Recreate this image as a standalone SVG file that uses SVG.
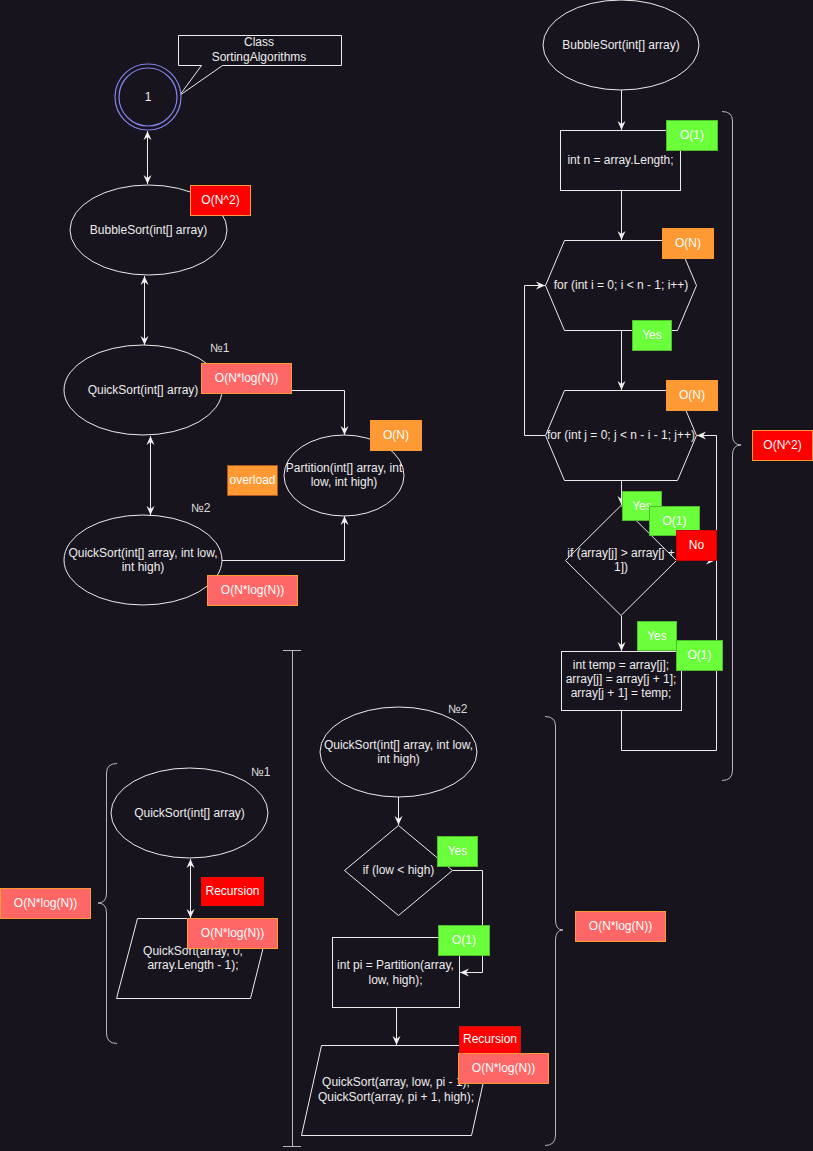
<svg xmlns="http://www.w3.org/2000/svg" width="813" height="1151" viewBox="0 0 813 1151">
  <defs>
    <marker id="arr" viewBox="0 0 10 10" refX="9" refY="5" markerWidth="10" markerHeight="10" markerUnits="userSpaceOnUse" orient="auto-start-reverse">
      <path d="M0,1 L9,5 L0,9 L3,5 Z" fill="#f0f0f0"/>
    </marker>
    <style>
      text { font-family: "Liberation Sans", Arial, Helvetica, sans-serif; font-size: 12px; fill: #ececec; text-anchor: middle; }
      .shape { fill: #18141d; stroke: #ececec; stroke-width: 1; }
      .line { fill: none; stroke: #ececec; stroke-width: 1; }
      .brace { fill: none; stroke: #b8b8b8; stroke-width: 1; }
      .red { fill: #ff0000; stroke: #ff9933; }
      .no { fill: #ff0000; stroke: #cc0000; }
      .salmon { fill: #ff6666; stroke: #ff9933; }
      .orange { fill: #ff9933; stroke: #ff9933; }
      .ovl { fill: #ff9933; stroke: #a8561f; }
      .green { fill: #6aff3a; stroke: #4fbf2b; }
      .badge text, text.w { fill: #ffffff; }
      .note { fill: #dcdcdc; text-anchor: start; }
    </style>
  </defs>
  <rect x="0" y="0" width="813" height="1151" fill="#18141d"/>

  <!-- class overview -->
  <g id="class-callout">
    <path class="shape" d="M178.5,35.5 H341.5 V65.5 H222.5 L179.5,95.5 L201.5,65.5 H178.5 Z"/>
    <text x="259" y="46">Class</text>
    <text x="259" y="61">SortingAlgorithms</text>
  </g>
  <g id="class-start">
    <circle cx="148" cy="97" r="33" fill="#18141d" stroke="#8484ee" stroke-width="1.2"/>
    <circle cx="148" cy="97" r="29" fill="none" stroke="#8484ee" stroke-width="1.2"/>
    <text x="148" y="101">1</text>
  </g>
  <g id="bubble-overview">
    <ellipse class="shape" cx="148.5" cy="230" rx="78.5" ry="45"/>
    <text x="148.5" y="234">BubbleSort(int[] array)</text>
  </g>
  <g id="quick1-overview">
    <ellipse class="shape" cx="143" cy="390" rx="79" ry="45"/>
    <text x="143" y="394">QuickSort(int[] array)</text>
  </g>
  <g id="quick2-overview">
    <ellipse class="shape" cx="143" cy="560" rx="79" ry="45"/>
    <text x="143" y="557">QuickSort(int[] array, int low,</text>
    <text x="143" y="571">int high)</text>
  </g>
  <g id="partition">
    <ellipse class="shape" cx="344" cy="475.5" rx="60" ry="40.5"/>
    <text x="344" y="472">Partition(int[] array, int</text>
    <text x="344" y="486">low, int high)</text>
  </g>

  <!-- bubble sort flow -->
  <g id="bubble-start">
    <ellipse class="shape" cx="621" cy="45" rx="78" ry="45"/>
    <text x="621" y="49">BubbleSort(int[] array)</text>
  </g>
  <g id="init-n">
    <rect class="shape" x="560.5" y="130.5" width="120" height="60"/>
    <text x="620.5" y="164">int n = array.Length;</text>
  </g>
  <g id="loop-i">
    <path class="shape" d="M564.5,240.5 H677.5 L696.5,285.5 L677.5,330.5 H564.5 L545.5,285.5 Z"/>
    <text x="621" y="289">for (int i = 0; i &lt; n - 1; i++)</text>
  </g>
  <g id="loop-j">
    <path class="shape" d="M564.5,390.5 H677.5 L696.5,435.5 L677.5,480.5 H564.5 L545.5,435.5 Z"/>
    <text x="621" y="439">for (int j = 0; j &lt; n - i - 1; j++)</text>
  </g>
  <g id="compare">
    <path class="shape" d="M621,505.5 L676.5,560.5 L621,615.5 L565.5,560.5 Z"/>
    <text x="621" y="557">if (array[j] &gt; array[j +</text>
    <text x="621" y="571">1])</text>
  </g>
  <g id="swap">
    <rect class="shape" x="561.5" y="651.5" width="120" height="59"/>
    <text x="621" y="669">int temp = array[j];</text>
    <text x="621" y="683">array[j] = array[j + 1];</text>
    <text x="621" y="697">array[j + 1] = temp;</text>
  </g>

  <!-- quick sort №1 detail -->
  <g id="quick1-start">
    <ellipse class="shape" cx="189.5" cy="813" rx="78.5" ry="45"/>
    <text x="189.5" y="817">QuickSort(int[] array)</text>
  </g>
  <g id="quick1-call">
    <path class="shape" d="M137.5,918.5 H270.5 L250.5,998.5 H116.5 Z"/>
    <text x="193" y="955">QuickSort(array, 0,</text>
    <text x="193" y="969">array.Length - 1);</text>
  </g>

  <!-- quick sort №2 detail -->
  <g id="quick2-start">
    <ellipse class="shape" cx="398.5" cy="752" rx="78.5" ry="45"/>
    <text x="398.5" y="749">QuickSort(int[] array, int low,</text>
    <text x="398.5" y="763">int high)</text>
  </g>
  <g id="check-range">
    <path class="shape" d="M398.5,825.5 L452.5,870.5 L398.5,915.5 L344.5,870.5 Z"/>
    <text x="398.5" y="874">if (low &lt; high)</text>
  </g>
  <g id="partition-call">
    <rect class="shape" x="332.5" y="937.5" width="127" height="70"/>
    <text x="395.5" y="969">int pi = Partition(array,</text>
    <text x="395.5" y="984">low, high);</text>
  </g>
  <g id="recursive-calls">
    <path class="shape" d="M321.5,1045.5 H491.5 L471.5,1135.5 H301.5 Z"/>
    <text x="396" y="1086">QuickSort(array, low, pi - 1);</text>
    <text x="396" y="1101">QuickSort(array, pi + 1, high);</text>
  </g>

  <!-- connectors -->
  <g id="connectors">
    <path class="line" d="M147.5,131 V184" marker-start="url(#arr)" marker-end="url(#arr)"/>
    <path class="line" d="M144.5,276 V345" marker-start="url(#arr)" marker-end="url(#arr)"/>
    <path class="line" d="M150.5,436 V515" marker-start="url(#arr)" marker-end="url(#arr)"/>
    <path class="line" d="M222,390.5 H344.5 V435" marker-end="url(#arr)"/>
    <path class="line" d="M222,560.5 H344.5 V516" marker-end="url(#arr)"/>

    <path class="line" d="M621.5,90 V130" marker-end="url(#arr)"/>
    <path class="line" d="M621.5,191 V240" marker-end="url(#arr)"/>
    <path class="line" d="M621.5,331 V390" marker-end="url(#arr)"/>
    <path class="line" d="M545,435.5 H524.5 V285.5 H545" marker-end="url(#arr)"/>
    <path class="line" d="M621.5,481 V505" marker-end="url(#arr)"/>
    <path class="line" d="M677,560.5 H715" marker-end="url(#arr)"/>
    <path class="line" d="M621.5,616 V651" marker-end="url(#arr)"/>
    <path class="line" d="M621.5,711 V750.5 H716.5 V435.5 H697" marker-end="url(#arr)"/>

    <path class="line" d="M190.5,859 V918" marker-start="url(#arr)" marker-end="url(#arr)"/>

    <path class="line" d="M398.5,797 V825" marker-end="url(#arr)"/>
    <path class="line" d="M453,870.5 H482.5 V972.5 H460" marker-end="url(#arr)"/>
    <path class="line" d="M396.5,1008 V1045" marker-end="url(#arr)"/>
  </g>

  <!-- braces -->
  <g id="brace-bubble">
    <path class="brace" d="M722,111.5 Q732.5,111.5 732.5,121 V435 Q732.5,445 741,445 Q732.5,445 732.5,455 V770 Q732.5,780.5 722,780.5"/>
  </g>
  <g id="brace-quick1">
    <path class="brace" d="M117,763.5 Q106.5,763.5 106.5,773 V893 Q106.5,903 98,903 Q106.5,903 106.5,913 V1033 Q106.5,1043.5 117,1043.5"/>
  </g>
  <g id="brace-quick2">
    <path class="brace" d="M545,716.5 Q555.5,716.5 555.5,726 V920 Q555.5,930 563,930 Q555.5,930 555.5,940 V1135 Q555.5,1145.5 545,1145.5"/>
  </g>
  <g id="divider">
    <path class="brace" d="M283,650.5 H301 M292.5,650.5 V1146 M283,1146.5 H301"/>
  </g>

  <!-- labels -->
  <g id="labels">
    <text class="note" x="210" y="352">№1</text>
    <text class="note" x="191" y="512">№2</text>
    <text class="note" x="251" y="776">№1</text>
    <text class="note" x="448" y="713">№2</text>
  </g>

  <!-- complexity badges -->
  <g class="badge" id="badge-bubble-overview">
    <rect class="red" x="190.5" y="185.5" width="60" height="30"/>
    <text x="220.5" y="204">O(N^2)</text>
  </g>
  <g class="badge" id="badge-quick1-overview">
    <rect class="salmon" x="201.5" y="363.5" width="90" height="30"/>
    <text x="246.5" y="382">O(N*log(N))</text>
  </g>
  <g class="badge" id="badge-partition">
    <rect class="orange" x="370.5" y="420.5" width="51" height="30"/>
    <text x="396" y="439">O(N)</text>
  </g>
  <g class="badge" id="badge-overload">
    <rect class="ovl" x="227.5" y="465.5" width="50" height="30"/>
    <text x="252.5" y="484">overload</text>
  </g>
  <g class="badge" id="badge-quick2-overview">
    <rect class="salmon" x="207.5" y="575.5" width="90" height="30"/>
    <text x="252.5" y="594">O(N*log(N))</text>
  </g>

  <g class="badge" id="badge-init-n">
    <rect class="green" x="666.5" y="120.5" width="51" height="30"/>
    <text x="692" y="139">O(1)</text>
  </g>
  <g class="badge" id="badge-loop-i">
    <rect class="orange" x="662.5" y="228.5" width="51" height="30"/>
    <text x="688" y="247">O(N)</text>
  </g>
  <g class="badge" id="badge-loop-i-yes">
    <rect class="green" x="632.5" y="320.5" width="39" height="30"/>
    <text x="652" y="339">Yes</text>
  </g>
  <g class="badge" id="badge-loop-j">
    <rect class="orange" x="666.5" y="380.5" width="51" height="30"/>
    <text x="692" y="399">O(N)</text>
  </g>
  <g class="badge" id="badge-loop-j-yes">
    <rect class="green" x="622.5" y="491.5" width="39" height="29"/>
    <text x="642" y="510">Yes</text>
  </g>
  <g class="badge" id="badge-compare">
    <rect class="green" x="649.5" y="506.5" width="50" height="29"/>
    <text x="674.5" y="525">O(1)</text>
  </g>
  <g class="badge" id="badge-compare-no">
    <rect class="no" x="676.5" y="530.5" width="40" height="30"/>
    <text x="696.5" y="549">No</text>
  </g>
  <g class="badge" id="badge-compare-yes">
    <rect class="green" x="637.5" y="621.5" width="39" height="29"/>
    <text x="657" y="640">Yes</text>
  </g>
  <g class="badge" id="badge-swap">
    <rect class="green" x="676.5" y="640.5" width="46" height="30"/>
    <text x="699.5" y="659">O(1)</text>
  </g>
  <g class="badge" id="badge-bubble">
    <rect class="red" x="752.5" y="430.5" width="60" height="30"/>
    <text x="782.5" y="449">O(N^2)</text>
  </g>

  <g class="badge" id="badge-quick1">
    <rect class="salmon" x="0.5" y="888.5" width="90" height="30"/>
    <text x="45.5" y="907">O(N*log(N))</text>
  </g>
  <g class="badge" id="badge-quick1-recursion">
    <rect class="no" x="201.5" y="877.5" width="62" height="28" style="stroke:#ff0000"/>
    <text x="232.5" y="895">Recursion</text>
  </g>
  <g class="badge" id="badge-quick1-call">
    <rect class="salmon" x="187.5" y="918.5" width="90" height="30"/>
    <text x="232.5" y="937">O(N*log(N))</text>
  </g>

  <g class="badge" id="badge-range-yes">
    <rect class="green" x="437.5" y="836.5" width="40" height="30"/>
    <text x="457.5" y="855">Yes</text>
  </g>
  <g class="badge" id="badge-partition-call">
    <rect class="green" x="438.5" y="925.5" width="51" height="30"/>
    <text x="464" y="944">O(1)</text>
  </g>
  <g class="badge" id="badge-quick2-recursion">
    <rect class="no" x="459.5" y="1026.5" width="61" height="27" style="stroke:#cc1010"/>
    <text x="490" y="1043">Recursion</text>
  </g>
  <g class="badge" id="badge-quick2-call">
    <rect class="salmon" x="458.5" y="1053.5" width="90" height="30"/>
    <text x="503.5" y="1072">O(N*log(N))</text>
  </g>
  <g class="badge" id="badge-quick2">
    <rect class="salmon" x="575.5" y="911.5" width="90" height="30"/>
    <text x="620.5" y="930">O(N*log(N))</text>
  </g>
</svg>
